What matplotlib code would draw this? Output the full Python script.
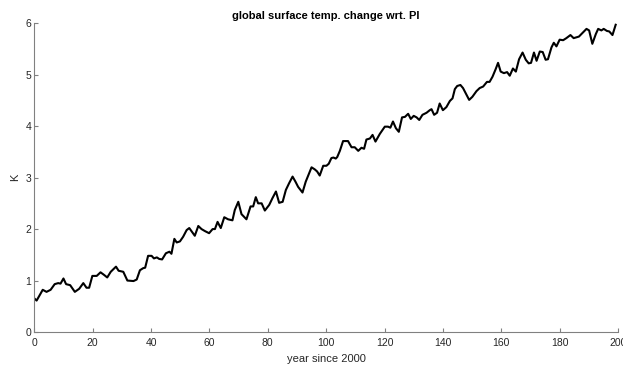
import matplotlib
matplotlib.use("Agg")
import matplotlib.pyplot as plt

# global mean surface temperature change vs. pre-industrial
years = [0, 0.8, 2.9, 4.2, 5.6, 7, 8.2, 9, 10, 10.9, 12.3, 13.9, 15.4, 16.8, 17.9, 18.8,
         19.9, 21.4, 22.7, 23.9, 25, 26.2, 28, 28.9, 30.5, 31.9, 34, 35.1, 36.2, 37.3, 38,
         39, 40.2, 41, 42, 42.8, 43.8, 45.1, 46.3, 47, 48, 48.8, 49.9, 51, 52.2, 53.1, 54,
         55, 56.2, 57.3, 58.5, 59.9, 61.1, 61.9, 62.8, 63.9, 65.1, 66.4, 67.9, 68.7, 69.9,
         71, 72.7, 74.1, 75, 75.9, 76.7, 77.9, 79, 80.5, 81.6, 82.8, 83.9, 85.1, 86.2, 87.3,
         88.5, 89.5, 90.4, 91.9, 93, 95, 96.1, 96.9, 97.8, 99, 100.1, 100.9, 101.8, 102.5,
         103.3, 103.8, 104.7, 105.8, 107.5, 108.7, 109.8, 111, 112.1, 113, 113.8, 115, 115.9,
         116.9, 118.4, 120.1, 121.2, 122, 122.9, 123.9, 124.9, 126, 127, 128.1, 129, 130,
         131, 131.9, 133, 134.4, 135.5, 136.1, 137, 138, 138.9, 140, 141.2, 142.4, 143.3,
         144.1, 144.9, 146, 146.9, 148.1, 149, 150.1, 151.5, 152.6, 153.8, 155.1, 156, 157,
         158.1, 158.9, 159.8, 160.9, 162, 162.9, 164, 165, 166.1, 167.3, 168.4, 169.4,
         170.2, 171.2, 172.1, 173.2, 174.2, 175.2, 176, 177.2, 178, 178.9, 180, 181.2,
         182.3, 183.7, 184.8, 186.6, 187.8, 189.2, 190.1, 191.2, 192.4, 193.2, 194.3,
         195.1, 196.2, 197, 198.1, 199.2]
dT = [0.655, 0.61, 0.82, 0.78, 0.82, 0.93, 0.95, 0.94, 1.04, 0.93, 0.91, 0.78, 0.84, 0.95,
      0.86, 0.86, 1.09, 1.09, 1.16, 1.11, 1.06, 1.17, 1.27, 1.19, 1.17, 1.0, 0.99, 1.02,
      1.2, 1.24, 1.25, 1.48, 1.48, 1.43, 1.45, 1.42, 1.41, 1.53, 1.56, 1.52, 1.81, 1.74,
      1.76, 1.85, 1.98, 2.02, 1.95, 1.87, 2.06, 2.0, 1.96, 1.92, 2.0, 2.0, 2.14, 2.02,
      2.23, 2.19, 2.17, 2.37, 2.53, 2.29, 2.19, 2.44, 2.44, 2.62, 2.50, 2.50, 2.36, 2.47,
      2.60, 2.73, 2.51, 2.53, 2.76, 2.89, 3.02, 2.92, 2.82, 2.71, 2.92, 3.20, 3.16, 3.12,
      3.04, 3.23, 3.23, 3.27, 3.38, 3.39, 3.37, 3.40, 3.52, 3.71, 3.71, 3.59, 3.59, 3.52,
      3.58, 3.56, 3.74, 3.76, 3.83, 3.70, 3.85, 3.99, 3.99, 3.97, 4.09, 3.96, 3.89, 4.17,
      4.18, 4.24, 4.14, 4.20, 4.17, 4.12, 4.22, 4.26, 4.31, 4.33, 4.22, 4.26, 4.44, 4.31,
      4.37, 4.49, 4.54, 4.72, 4.78, 4.80, 4.74, 4.61, 4.51, 4.57, 4.68, 4.74, 4.77, 4.86,
      4.86, 4.96, 5.11, 5.23, 5.06, 5.03, 5.05, 4.98, 5.12, 5.06, 5.30, 5.43, 5.29, 5.22,
      5.23, 5.43, 5.27, 5.45, 5.44, 5.29, 5.30, 5.53, 5.62, 5.55, 5.68, 5.67, 5.71, 5.77,
      5.71, 5.74, 5.81, 5.89, 5.86, 5.60, 5.79, 5.89, 5.86, 5.89, 5.85, 5.84, 5.77, 5.97]

plt.rcParams['font.family'] = ['Liberation Sans', 'DejaVu Sans']
axcol = '#262626'

fig = plt.figure(figsize=(6.23, 3.65), dpi=100)
ax = fig.add_axes([0.055, 0.0904, 0.937, 0.846])
ax.plot(years, dT, color='k', linewidth=1.5)

ax.set_xlim(0, 200)
ax.set_ylim(0, 6)
ax.set_xticks(range(0, 201, 20))
ax.set_yticks(range(0, 7))
ax.spines['top'].set_visible(False)
ax.spines['right'].set_visible(False)
for s in ['left', 'bottom']:
    ax.spines[s].set_color('#808080')
    ax.spines[s].set_linewidth(0.8)
ax.tick_params(direction='in', length=3, width=0.8, color='#808080',
               labelsize=7.5, labelcolor=axcol)
ax.tick_params(axis='x', pad=4.5)
ax.tick_params(axis='y', pad=2)

ax.set_title("global surface temp. change wrt. PI", fontsize=8, fontweight='bold',
             color='#000000', pad=3)
ax.set_xlabel("year since 2000", fontsize=8, color=axcol, labelpad=4)
ax.set_ylabel("K", fontsize=8, color=axcol, labelpad=4)

fig.savefig("out.png", dpi=100)
